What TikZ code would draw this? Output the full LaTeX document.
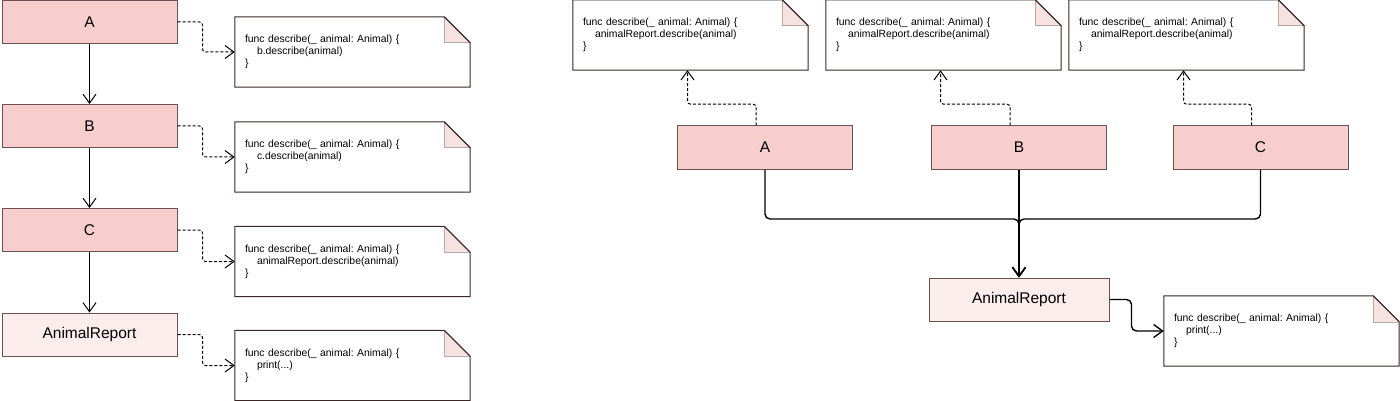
\documentclass[tikz,border=0pt]{standalone}
\usepackage{fontspec}
\setmainfont{Liberation Sans}
\usetikzlibrary{arrows.meta}
\usetikzlibrary{calc}
\definecolor{boxfill}{HTML}{F8CECC}
\definecolor{boxline}{HTML}{6E5050}
\definecolor{reportfill}{HTML}{FCEDED}
\definecolor{noteline}{HTML}{3A2626}
\definecolor{foldfill}{HTML}{F7E2E2}
\frenchspacing

\begin{document}
\begin{tikzpicture}[x=1pt,y=-1pt,>={Straight Barb[length=9pt,width=13pt]},
	cls/.style={draw=boxline,fill=boxfill,line width=1pt,minimum width=175,minimum height=43,inner sep=0,font=\fontsize{15.5}{18}\selectfont},
	rep/.style={cls,fill=reportfill},
	note/.style={minimum width=235,minimum height=70,text width=215,inner xsep=10,inner ysep=0,align=left,font=\fontsize{10.4}{12}\selectfont},
	call/.style={->,line width=1pt},
	dep/.style={->,line width=1pt,dash pattern=on 3pt off 2pt,rounded corners=3},
	bus/.style={->,line width=1.4pt,rounded corners=5}]
			\useasboundingbox(0,0)rectangle(1400,401);
			% chain of calls
			\node[cls](A)at(89.5,22){A};
			\node[cls](B)at(89.5,126){B};
			\node[cls](C)at(89.5,230){C};
			\node[rep](R)at(89.5,334.5){AnimalReport};
			\node[note](nA)at(352.5,52){func describe(\_ animal: Animal) \{\\\hspace*{12pt}b.describe(animal)\\\}};
			\node[note](nB)at(352.5,157){func describe(\_ animal: Animal) \{\\\hspace*{12pt}c.describe(animal)\\\}};
			\node[note](nC)at(352.5,261.5){func describe(\_ animal: Animal) \{\\\hspace*{12pt}animalReport.describe(animal)\\\}};
			\node[note](nR)at(352.5,365.5){func describe(\_ animal: Animal) \{\\\hspace*{12pt}print(...)\\\}};
			\draw[call](A)--(B);
			\draw[call](B)--(C);
			\draw[call](C)--(R);
			\draw[dep](A.east)--++(25,0)|-(nA.west);
			\draw[dep](B.east)--++(25,0)|-(nB.west);
			\draw[dep](C.east)--++(25,0)|-(nC.west);
			\draw[dep](R.east)--++(25,0)|-(nR.west);
			% direct calls
			\node[cls](A2)at(765,147.5){A};
			\node[cls](B2)at(1019,147.5){B};
			\node[cls](C2)at(1260.5,147.5){C};
			\node[rep,minimum width=180](R2)at(1019,299.5){AnimalReport};
			\node[note](nA2)at(690.5,35){func describe(\_ animal: Animal) \{\\\hspace*{12pt}animalReport.describe(animal)\\\}};
			\node[note](nB2)at(943.5,35){func describe(\_ animal: Animal) \{\\\hspace*{12pt}animalReport.describe(animal)\\\}};
			\node[note](nC2)at(1186.5,35){func describe(\_ animal: Animal) \{\\\hspace*{12pt}animalReport.describe(animal)\\\}};
			\node[note](nR2)at(1281.5,331){func describe(\_ animal: Animal) \{\\\hspace*{12pt}print(...)\\\}};
			\coordinate(J)at(1019,219);
			\draw[dep]([xshift=-9pt]A2.north)|-([xshift=-3pt,yshift=-34pt]nA2.south)--([xshift=-3pt]nA2.south);
			\draw[dep]([xshift=-9pt]B2.north)|-([xshift=-3pt,yshift=-34pt]nB2.south)--([xshift=-3pt]nB2.south);
			\draw[dep]([xshift=-9pt]C2.north)|-([xshift=-3pt,yshift=-34pt]nC2.south)--([xshift=-3pt]nC2.south);
			\draw[bus](A2.south)|-(J)--(R2.north);
			\draw[bus](C2.south)|-(J)--(R2.north);
			\draw[bus](B2)--(R2);
			\draw[bus](R2.east)--++(22,0)|-(nR2.west);
			% note outlines with folded corner
			\foreach \n in {nA,nB,nC,nR,nA2,nB2,nC2,nR2}{
				\draw[noteline,line width=1pt](\n.north west)--([xshift=-26pt]\n.north east)--([yshift=-26pt]\n.north east)--(\n.south east)--(\n.south west)--cycle;
				\draw[draw=boxline!50,fill=foldfill,line width=0.6pt]([xshift=-26pt]\n.north east)--([xshift=-26pt,yshift=-26pt]\n.north east)--([yshift=-26pt]\n.north east);
				\draw[noteline,line width=1pt]([xshift=-26pt]\n.north east)--([yshift=-26pt]\n.north east);
			}
		\end{tikzpicture}
\end{document}
